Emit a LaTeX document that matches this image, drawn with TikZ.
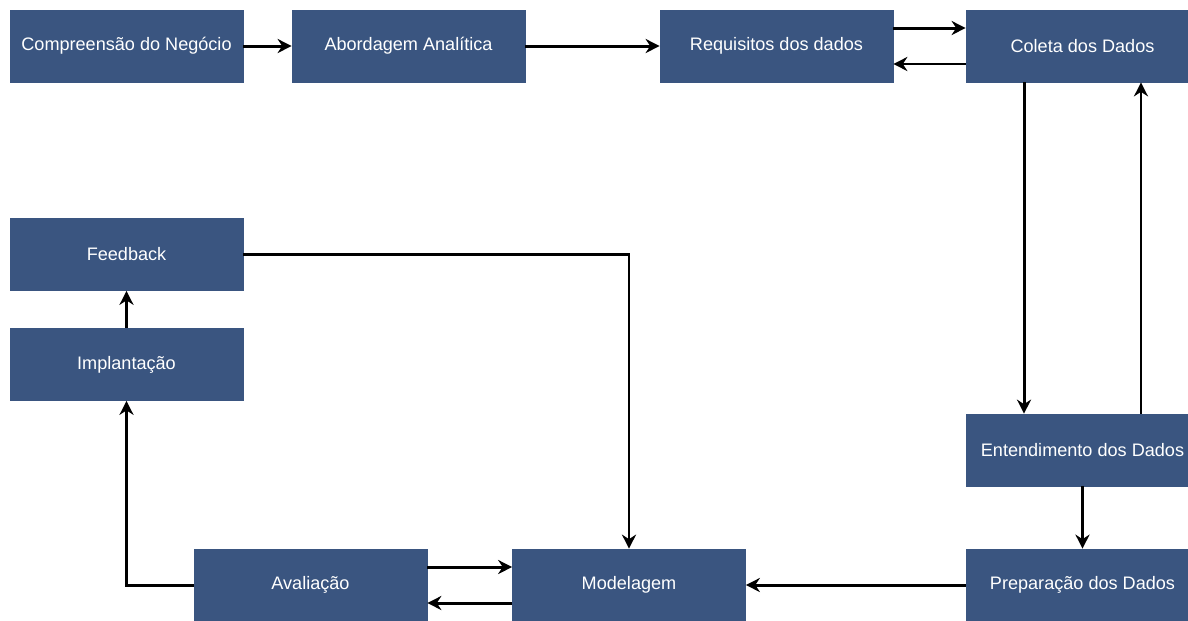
\documentclass[tikz,border=0pt]{standalone}
\usepackage{fontspec}
\setmainfont{Liberation Sans}
\usepackage{xcolor}
\usetikzlibrary{arrows.meta}
\definecolor{boxblue}{RGB}{58,85,128}
\tikzset{step box/.style={rectangle,fill=boxblue,draw=boxblue,text=white,minimum width=4.66cm,minimum height=1.44cm,inner sep=0pt,font=\fontsize{10.3}{12}\selectfont},
flow/.style={draw,-{Stealth[length=8pt,width=8pt]},line width=1.7pt},}

\begin{document}
\begin{tikzpicture}[x=0.02cm,y=-0.02cm]
    \useasboundingbox (0,0) rectangle (1188,620);
    \node[step box] (comp) at (126.5,46) {Compreensão do Negócio};
    \node[step box] (abord) at (408.5,46) {Abordagem Analítica};
    \node[step box] (req) at (776.5,46) {Requisitos dos dados};
    \node[step box] (coleta) at (1082.5,46) {Coleta dos Dados};
    \node[step box] (feed) at (126.5,254.5) {Feedback};
    \node[step box] (impl) at (126.5,364.5) {Implantação};
    \node[step box] (entend) at (1082.5,450) {Entendimento dos Dados};
    \node[step box] (prep) at (1082.5,585) {Preparação dos Dados};
    \node[step box] (aval) at (310.5,585) {Avaliação};
    \node[step box] (model) at (629,585) {Modelagem};

    \path[flow]
    (comp) -- (abord);
    \path[flow] (abord) -- (req);
    \path[flow] ([yshift=0.36cm]req.east) -- ([yshift=0.36cm]coleta.west);
    \path[flow] ([yshift=-0.36cm]coleta.west) -- ([yshift=-0.36cm]req.east);
    \path[flow] ([xshift=-1.17cm]coleta.south) -- ([xshift=-1.17cm]entend.north);
    \path[flow] ([xshift=1.17cm]entend.north) -- ([xshift=1.17cm]coleta.south);
    \path[flow] (entend) -- (prep);
    \path[flow] (prep) -- (model);
    \path[flow] ([yshift=0.36cm]aval.east) -- ([yshift=0.36cm]model.west);
    \path[flow] ([yshift=-0.36cm]model.west) -- ([yshift=-0.36cm]aval.east);
    \path[flow] (aval.west) -| (impl.south);
    \path[flow] (impl) -- (feed);
    \path[flow] (feed.east) -| (model.north);
\end{tikzpicture}
\end{document}
